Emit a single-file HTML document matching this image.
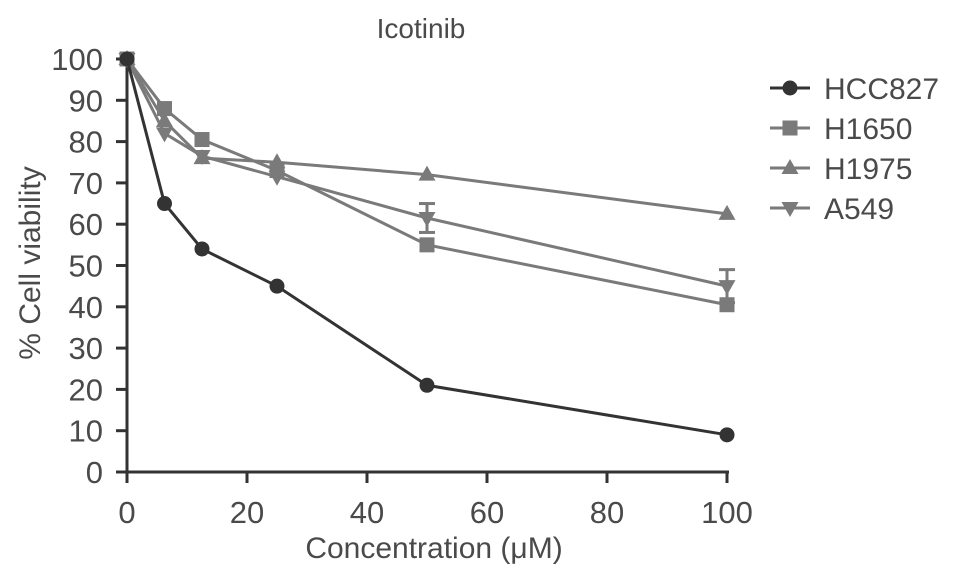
<!DOCTYPE html>
<html><head><meta charset="utf-8"><style>
html,body{margin:0;padding:0;background:#fff;}
svg{display:block;font-family:"Liberation Sans",sans-serif;}
</style></head><body>
<svg id="chart" width="969" height="585" viewBox="0 0 969 585"></svg>
<script>
const concentrations=[0,6.25,12.5,25,50,100];
const seriesNames=['HCC827','H1650','H1975','A549'];
const hcc827=[100,65,54,45,21,9];
const h1650=[100,88,80.5,73,55,40.5];
const h1975=[100,85,76,75,72,62.5];
const a549=[100,82,76.5,71.5,61.5,45];
const a549Err=[0,0,0,0,3.5,4];
const xTicks=[0,20,40,60,80,100];
const yTicks=[0,10,20,30,40,50,60,70,80,90,100];

const NS='http://www.w3.org/2000/svg';
const svg=document.getElementById('chart');
const X=v=>127+v*6;
const Y=v=>472-v*4.13;
function mk(t,a,p){const e=document.createElementNS(NS,t);for(const k in a)e.setAttribute(k,a[k]);(p||svg).appendChild(e);return e;}
const TC='#4a4a4a';
const ax=mk('g',{});


mk('line',{x1:X(0),y1:Y(0),x2:X(0),y2:Y(100)-3,stroke:'#333','stroke-width':3},ax);
mk('line',{x1:X(0),y1:Y(0),x2:X(100)+2,y2:Y(0),stroke:'#333','stroke-width':3},ax);
yTicks.forEach(v=>{
  mk('line',{x1:X(0)-11,y1:Y(v),x2:X(0),y2:Y(v),stroke:'#333','stroke-width':3},ax);
  const t=mk('text',{x:X(0)-24,y:Y(v)+11,'text-anchor':'end','font-size':31,fill:TC},ax);
  
  
  t.textContent=v;
});
xTicks.forEach(v=>{
  mk('line',{x1:X(v),y1:Y(0),x2:X(v),y2:Y(0)+11,stroke:'#333','stroke-width':3},ax);
  const t=mk('text',{x:X(v),y:523,'text-anchor':'middle','font-size':31,fill:TC},ax);
  
  
  t.textContent=v;
});
let t=mk('text',{x:434,y:558,'text-anchor':'middle','font-size':30,fill:TC});


t.textContent='Concentration (μM)';
t=mk('text',{x:0,y:0,'text-anchor':'middle','font-size':30,fill:TC,transform:'translate(40,263) rotate(-90)'});


t.textContent='% Cell viability';
t=mk('text',{x:421,y:38,'text-anchor':'middle','font-size':28,fill:TC});


t.textContent='Icotinib';

function marker(type,cx,cy,col,p){
  if(type==='circle')return mk('circle',{cx:cx,cy:cy,r:7.5,fill:col},p);
  if(type==='square')return mk('rect',{x:cx-7.5,y:cy-7.5,width:15,height:15,fill:col},p);
  if(type==='up')return mk('polygon',{points:`${cx},${cy-9} ${cx+8.5},${cy+6} ${cx-8.5},${cy+6}`,fill:col},p);
  return mk('polygon',{points:`${cx},${cy+9} ${cx+8.5},${cy-6} ${cx-8.5},${cy-6}`,fill:col},p);
}
const defs=[
 {name:'hcc827',vals:hcc827,col:'#333',m:'circle'},
 {name:'h1650',vals:h1650,col:'#7a7a7a',m:'square'},
 {name:'h1975',vals:h1975,col:'#7a7a7a',m:'up'},
 {name:'a549',vals:a549,col:'#7a7a7a',m:'down',err:a549Err}
];
[3,2,1,0].forEach(i=>{
  const d=defs[i];
  const g=mk('g',{});
  
  
  const pts=d.vals.map((v,j)=>X(concentrations[j])+','+Y(v)).join(' ');
  mk('polyline',{points:pts,fill:'none',stroke:d.col,'stroke-width':3},g);
  if(d.err)d.err.forEach((e,j)=>{
    if(!e)return;const cx=X(concentrations[j]),v=d.vals[j];
    mk('line',{x1:cx,y1:Y(v+e),x2:cx,y2:Y(v-e),stroke:d.col,'stroke-width':3},g);
    mk('line',{x1:cx-8,y1:Y(v+e),x2:cx+8,y2:Y(v+e),stroke:d.col,'stroke-width':3},g);
    mk('line',{x1:cx-8,y1:Y(v-e),x2:cx+8,y2:Y(v-e),stroke:d.col,'stroke-width':3},g);
  });
  d.vals.forEach((v,j)=>{
    const m=marker(d.m,X(concentrations[j]),Y(v),d.col,g);
    
    
  });
});
const lg=mk('g',{});


defs.forEach((d,i)=>{
  const y=88+i*40;
  const e=mk('g',{},lg);
  
  
  mk('line',{x1:770,y1:y,x2:810,y2:y,stroke:d.col,'stroke-width':3},e);
  marker(d.m,790,y,d.col,e);
  const tx=mk('text',{x:824,y:y+11,'font-size':30,fill:TC},e);
  tx.textContent=seriesNames[i];
});
</script>
</body></html>
